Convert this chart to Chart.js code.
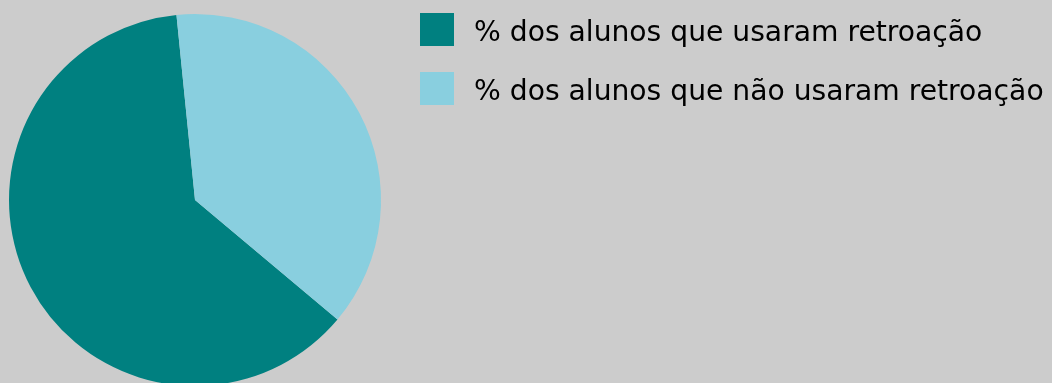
<!DOCTYPE html>
<html lang="pt">
<head>
    <meta charset="UTF-8">
    <title>Retroação</title>
    <script src="https://cdn.jsdelivr.net/npm/chart.js"></script>
    <style>
        html, body {
            margin: 0;
            padding: 0;
            background-color: #cccccc;
            overflow: hidden;
        }
        .wrap {
            position: relative;
            width: 1052px;
            height: 383px;
            overflow: hidden;
        }
        .chart-box {
            position: absolute;
            left: 0;
            top: 0;
            width: 1052px;
            height: 400px;
        }
        .legend {
            position: absolute;
            left: 420px;
            top: 12px;
            font-family: "DejaVu Sans", sans-serif;
            font-size: 28.2px;
            color: #000;
        }
        .legend-item {
            display: flex;
            align-items: center;
            height: 34px;
            margin-bottom: 25px;
            white-space: nowrap;
        }
        .legend-item span {
            position: relative;
            top: 2px;
        }
        .legend-swatch {
            width: 34px;
            height: 33px;
            margin-right: 20px;
        }
    </style>
</head>
<body>
    <div class="wrap">
        <div class="chart-box">
            <canvas id="pieChart" width="1052" height="400"></canvas>
        </div>
        <div class="legend" id="legend"></div>
    </div>

    <script>
        const labels = ['% dos alunos que usaram retroação', '% dos alunos que não usaram retroação'];
        const values = [62.3, 37.7];
        const colors = ['#008080', '#89cfdf'];

        // legend in HTML, chart on the left
        const legendEl = document.getElementById('legend');
        labels.forEach(function (label, i) {
            const item = document.createElement('div');
            item.className = 'legend-item';
            const sw = document.createElement('div');
            sw.className = 'legend-swatch';
            sw.style.backgroundColor = colors[i];
            const txt = document.createElement('span');
            txt.textContent = label;
            item.appendChild(sw);
            item.appendChild(txt);
            legendEl.appendChild(item);
        });

        new Chart(document.getElementById('pieChart').getContext('2d'), {
            type: 'pie',
            data: {
                labels: labels,
                datasets: [{
                    data: values,
                    backgroundColor: colors,
                    borderWidth: 0
                }]
            },
            options: {
                responsive: false,
                animation: false,
                rotation: 130,
                layout: {
                    padding: { left: 9, top: 14, right: 671, bottom: 14 }
                },
                plugins: {
                    legend: { display: false },
                    tooltip: { enabled: false }
                }
            }
        });
    </script>
</body>
</html>
